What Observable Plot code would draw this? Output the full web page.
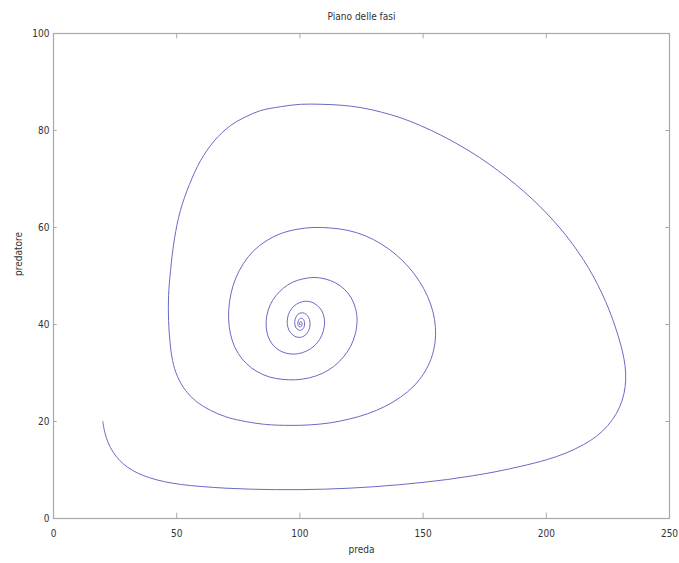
<!DOCTYPE html>
<html>
<head>
<meta charset="utf-8">
<script src="https://cdn.jsdelivr.net/npm/d3@7"></script>
<script src="https://cdn.jsdelivr.net/npm/@observablehq/plot@0.6"></script>
<style>
  html, body { margin: 0; padding: 0; background: #fff; }
  #chart svg { display: block; }
</style>
</head>
<body>
<div id="chart"></div>
<script>
const title = "Piano delle fasi";
const xLabel = "preda";
const yLabel = "predatore";
const xTicks = [0, 50, 100, 150, 200, 250];
const yTicks = [0, 20, 40, 60, 80, 100];

// Trajectory (prey, predator)
const preda = [
  20, 20.8, 22.2, 24.2, 26.8, 30, 34, 39, 45, 52,
  60, 70, 80, 90, 100, 110, 120, 130, 140, 150,
  160, 170, 180, 190, 200, 208, 215, 220.5, 225, 228.5,
  230.8, 232, 232.2, 231.5, 230, 228, 225.5, 222.5, 219, 215,
  210.5, 205.5, 200, 194, 187.5, 180.5, 173, 165, 157, 149,
  141, 133, 125, 117, 109, 100.2, 92.1, 84, 77.9, 71.8,
  65.3, 59.7, 55.2, 51.5, 49.1, 47.5, 46.7, 46.7, 47.3, 48.3,
  50.3, 53.6, 58, 63.7, 69.8, 75.9, 86, 96.2,
  104, 112, 120, 127.5, 134.5, 140.8, 146.2, 150.4, 153.3, 154.8,
  155, 154, 151.8, 148.5, 144.2, 139, 133, 126.5, 119.5, 112.4,
  105.3, 98.5, 92, 86.2, 81.2, 77.1, 74, 72, 71.1, 71.3,
  72.6, 75, 78.4, 82.6, 87.5, 92.8, 98.3, 103.8, 109, 113.6,
  117.5, 120.6, 122.5, 123.2, 122.6, 120.8, 118, 114.4, 110.2, 105.7,
  101.2, 97, 93.3, 90.2, 87.9, 86.6, 86.3, 87, 88.7, 91.2,
  94.3, 97.7, 101.1, 104.3, 107, 108.9, 109.9, 109.9, 108.9, 107.1,
  104.8, 102.3, 99.8, 97.6, 95.9, 95, 94.9, 95.6, 97, 98.8,
  100.7, 102.4, 103.6, 104.1, 103.9, 103.1, 101.9, 100.5, 99.2, 98.3,
  97.9, 98.1, 98.8, 99.8, 100.8, 101.6, 101.9, 101.7, 101.1, 100.3,
  99.6, 99.2, 99.2, 99.6, 100.2, 100.7, 100.9, 100.7, 100.3, 99.9,
  99.8, 100, 100.2
];
const predatore = [
  20, 17.8, 15.6, 13.7, 12.0, 10.6, 9.4, 8.4, 7.6, 7.0,
  6.6, 6.25, 6.05, 5.95, 5.95, 6.05, 6.25, 6.55, 6.95, 7.45,
  8.05, 8.8, 9.7, 10.8, 12.1, 13.5, 15.2, 17.0, 19.2, 21.7,
  24.4, 27.2, 30, 33, 36.2, 39.5, 43, 46.5, 50, 53.4,
  56.7, 59.9, 63, 66, 68.9, 71.7, 74.4, 76.9, 79.1, 81,
  82.6, 83.8, 84.7, 85.2, 85.4, 85.4, 84.9, 84.1, 82.8, 81,
  77.9, 73.8, 68.9, 63.5, 57.7, 51.1, 46, 40.8, 36.3, 32.6,
  29.3, 26.4, 24.1, 22.3, 21, 20.2, 19.4, 19.2,
  19.3, 19.7, 20.5, 21.6, 23.1, 25.0, 27.3, 30, 33, 36.2,
  39.4, 42.6, 45.8, 48.9, 51.8, 54.4, 56.6, 58.3, 59.4, 59.9,
  60, 59.6, 58.7, 57.2, 55.2, 52.6, 49.6, 46.3, 42.9, 39.6,
  36.6, 34, 31.9, 30.3, 29.2, 28.7, 28.6, 29, 29.9, 31.3,
  33.2, 35.5, 38.1, 40.8, 43.3, 45.5, 47.3, 48.6, 49.4, 49.7,
  49.4, 48.7, 47.5, 45.9, 44, 41.9, 39.7, 37.7, 36, 34.8,
  34.1, 33.9, 34.2, 35, 36.2, 37.8, 39.6, 41.3, 42.8, 43.9,
  44.6, 44.8, 44.5, 43.8, 42.7, 41.4, 40, 38.8, 37.9, 37.4,
  37.4, 37.9, 38.8, 39.9, 41, 41.8, 42.3, 42.4, 42.1, 41.4,
  40.6, 39.7, 39.1, 38.8, 38.9, 39.4, 40.1, 40.8, 41.2, 41.3,
  41, 40.5, 40, 39.6, 39.5, 39.7, 40.1, 40.5, 40.6, 40.4,
  40.1, 39.9, 40
];

const data = preda.map((x, i) => ({x, y: predatore[i]}));

const font = "'DejaVu Sans Condensed', 'DejaVu Sans', sans-serif";

const chart = Plot.plot({
  width: 679,
  height: 563,
  marginTop: 33,
  marginLeft: 53,
  marginRight: 10,
  marginBottom: 45,
  style: {fontFamily: font, fontSize: "10px", color: "#333", background: "#fff"},
  x: {domain: [0, 250], ticks: xTicks},
  y: {domain: [0, 100], ticks: yTicks},
  marks: [
    Plot.frame({stroke: "#a8a8a8", strokeWidth: 1.2}),
    Plot.ruleX(xTicks, {x: d => d, y1: 0, y2: 1.1, stroke: "#a8a8a8"}),
    Plot.ruleX(xTicks, {x: d => d, y1: 100, y2: 98.9, stroke: "#a8a8a8"}),
    Plot.ruleY(yTicks, {y: d => d, x1: 0, x2: 1.5, stroke: "#a8a8a8"}),
    Plot.ruleY(yTicks, {y: d => d, x1: 250, x2: 248.5, stroke: "#a8a8a8"}),
    Plot.axisX({ticks: xTicks, tickSize: 0, tickPadding: 11, label: null, fill: "#333"}),
    Plot.axisY({ticks: yTicks, tickSize: 0, tickPadding: 4, label: null, fill: "#333"}),
    Plot.line(data, {x: "x", y: "y", stroke: "#6a6ac4", strokeWidth: 1, curve: "catmull-rom"}),
    Plot.text([title], {frameAnchor: "top", dy: -21, fill: "#333", fontSize: 10}),
    Plot.text([xLabel], {frameAnchor: "bottom", dy: 34, fill: "#333", fontSize: 10}),
    Plot.text([yLabel], {frameAnchor: "left", dx: -35, rotate: -90, fill: "#333", fontSize: 10})
  ]
});

document.getElementById("chart").appendChild(chart);
</script>
</body>
</html>
